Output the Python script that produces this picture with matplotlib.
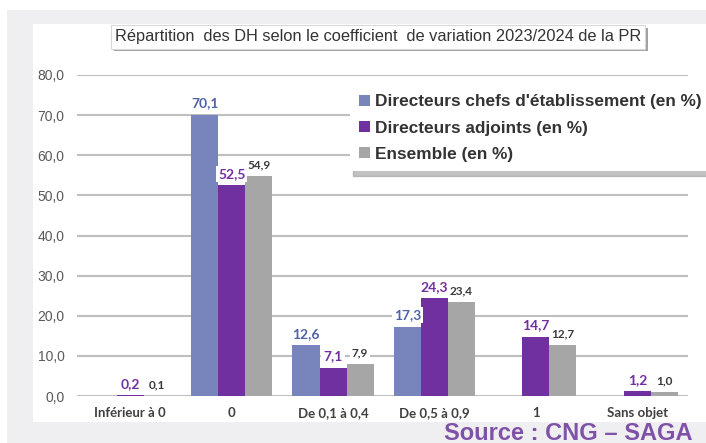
import matplotlib.pyplot as plt
import numpy as np
from matplotlib.patches import Rectangle
import matplotlib.patheffects as pe

categories = ['Inférieur à 0', '0', 'De 0,1 à 0,4', 'De 0,5 à 0,9', '1', 'Sans objet']
chefs = [np.nan, 70.1, 12.6, 17.3, np.nan, np.nan]
adjoints = [0.2, 52.5, 7.1, 24.3, 14.7, 1.2]
ensemble = [0.1, 54.9, 7.9, 23.4, 12.7, 1.0]
series_names = ["Directeurs chefs d'établissement (en %)",
                "Directeurs adjoints (en %)",
                "Ensemble (en %)"]
yticks = [0, 10, 20, 30, 40, 50, 60, 70, 80]

W, H = 706, 443
fig = plt.figure(figsize=(W / 100, H / 100), dpi=100)
fig.patch.set_facecolor('white')

def px(x0, y0, x1, y1):
    # pixel box (top-left origin) -> figure fraction rect
    return (x0 / W, 1 - y1 / H, (x1 - x0) / W, (y1 - y0) / H)

r = px(7, 10, 706, 443)
fig.patches.append(Rectangle(r[:2], r[2], r[3], transform=fig.transFigure,
                             facecolor='#efeff1', edgecolor='none', zorder=-2))
r = px(33, 24, 706, 422)
fig.patches.append(Rectangle(r[:2], r[2], r[3], transform=fig.transFigure,
                             facecolor='white', edgecolor='none', zorder=-1))

ax = fig.add_axes(px(77, 75, 688, 396))
ax.set_facecolor('none')
ax.set_zorder(1)

c_blue, c_purple, c_grey = '#7884bc', '#7030a0', '#a6a6a6'
lab_blue, lab_purple, lab_grey = '#4f62a8', '#7030a0', '#3a3a3a'

x = np.arange(len(categories))
w = 0.267
b1 = ax.bar(x - w, chefs, w, color=c_blue, label=series_names[0], zorder=2)
b2 = ax.bar(x, adjoints, w, color=c_purple, label=series_names[1], zorder=2)
b3 = ax.bar(x + w, ensemble, w, color=c_grey, label=series_names[2], zorder=2)

def fmt(v):
    return f'{v:.1f}'.replace('.', ',')

for xs, vals, col, fs in [(x - w, chefs, lab_blue, 10),
                          (x, adjoints, lab_purple, 10),
                          (x + w, ensemble, lab_grey, 8.5)]:
    for xi, v in zip(xs, vals):
        if np.isnan(v):
            continue
        ax.annotate(fmt(v), (xi, v), xytext=(0, 4), textcoords='offset points',
                    ha='center', va='bottom', fontsize=fs, color=col,
                    fontweight='bold', family='Lato', zorder=4,
                    bbox=dict(boxstyle='square,pad=0.15', fc='white', ec='none'))

ax.set_ylim(0, 80)
ax.set_xlim(-0.525, 5.5)
ax.set_yticks(yticks)
ax.set_yticklabels([fmt(v) for v in yticks], fontsize=10, color='#595959',
                   family='Liberation Sans')
ax.set_xticks(x)
ax.set_xticklabels(categories, fontsize=9.5, color='#404040', fontweight='bold',
                   family='Lato')
ax.tick_params(length=0)
ax.tick_params(axis='y', pad=9)
ax.tick_params(axis='x', pad=8)
ax.grid(axis='y', color='#bfbfbf', lw=1.5, zorder=1)
for s in ax.spines.values():
    s.set_visible(False)

# title box with shadow
title = fig.text(378 / W, 1 - 37 / H,
                 'Répartition  des DH selon le coefficient  de variation 2023/2024 de la PR',
                 ha='center', va='center', fontsize=11.8, color='#333333',
                 family='Liberation Sans',
                 bbox=dict(boxstyle='square,pad=0.25', fc='white', ec='#d8d8d8', lw=0.8))
title.get_bbox_patch().set_path_effects([
    pe.SimplePatchShadow(offset=(2, -2), shadow_rgbFace='#8a8a8a', alpha=0.8),
    pe.Normal()])

leg = ax.legend(loc='upper left', bbox_to_anchor=(350 / W, 1 - 85 / H),
                bbox_transform=fig.transFigure, frameon=True,
                shadow={'color': '#9a9a9a', 'alpha': 0.6, 'ox': 2, 'oy': -3},
                fancybox=False, handlelength=0.6, handleheight=0.6,
                handletextpad=0.3, labelspacing=0.65, borderpad=0.55,
                borderaxespad=0,
                prop={'family': 'Liberation Sans', 'weight': 'bold', 'size': 12.4})
leg.get_frame().set_edgecolor('none')
for t in leg.get_texts():
    t.set_color('#333333')

fig.text(693 / W, 1 - 433 / H, 'Source : CNG – SAGA', ha='right', va='center',
         fontsize=17, fontweight='bold', color='#7f52a8', family='Liberation Sans')

fig.savefig('out.png', dpi=100)
